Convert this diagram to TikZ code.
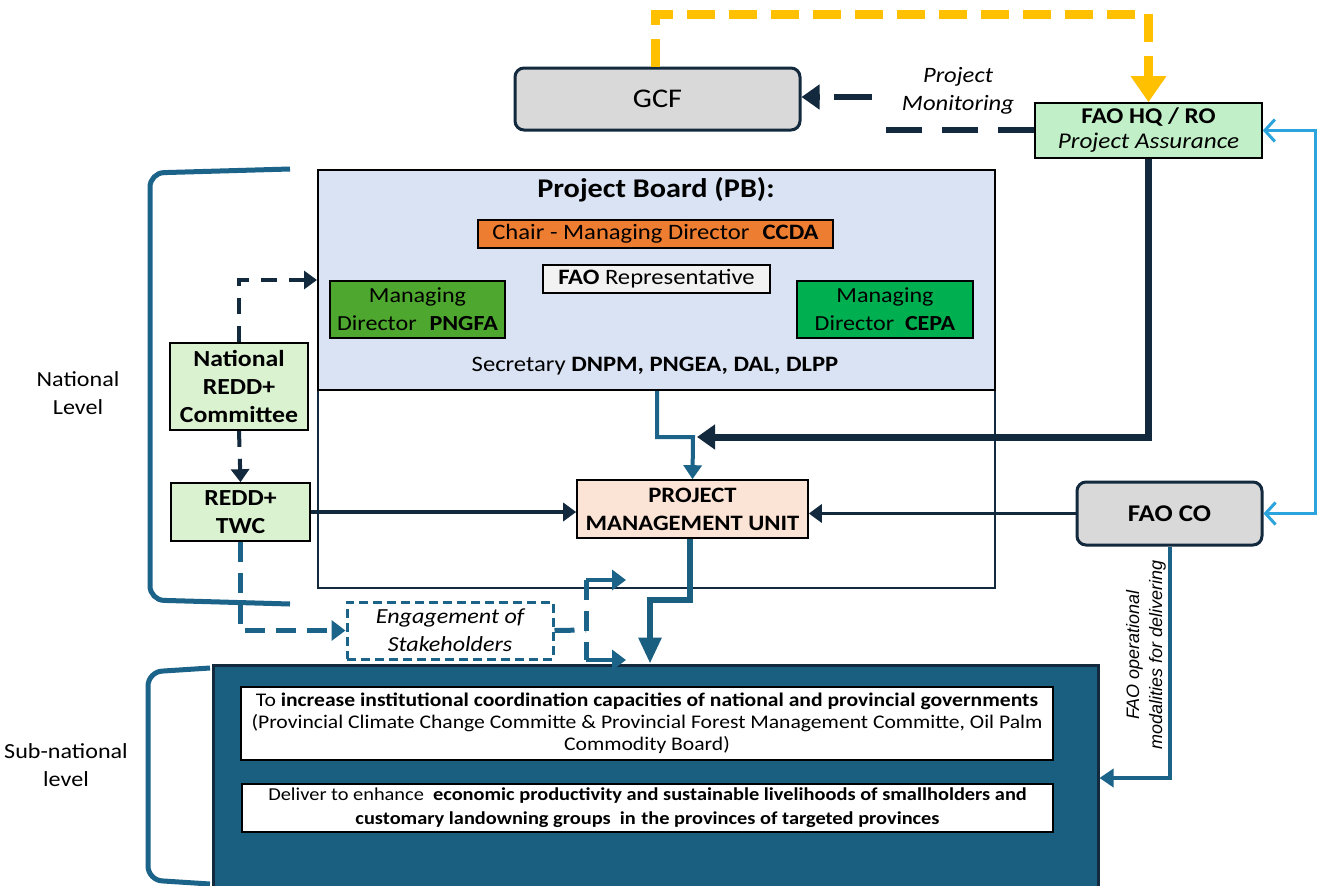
\documentclass[tikz,border=0pt]{standalone}
\usepackage{fontspec}
\setmainfont{Carlito}[FakeStretch=1.12]
\newfontfamily\arialf{Liberation Sans}
\usetikzlibrary{arrows.meta,calc}
\definecolor{navy}{HTML}{13293D}
\definecolor{tealc}{HTML}{1B6388}
\definecolor{subteal}{HTML}{1A5E80}
\definecolor{lblue}{HTML}{2BA3DC}
\definecolor{yel}{HTML}{FFC000}
\definecolor{pbblue}{HTML}{DAE3F3}
\definecolor{gone}{HTML}{4EA72E}
\definecolor{gtwo}{HTML}{00B050}
\definecolor{orng}{HTML}{ED7D31}
\definecolor{hqgreen}{HTML}{C1F0C8}
\definecolor{lgreen}{HTML}{DAF2D0}
\definecolor{peach}{HTML}{FBE3D6}
\definecolor{boxgray}{HTML}{D9D9D9}
\begin{document}
\begin{tikzpicture}[x=1pt,y=-1pt,
  box/.style={draw=black, line width=1.6pt, inner sep=0pt, align=center},
  rbox/.style={draw=navy, line width=3pt, rounded corners=9pt, fill=boxgray, inner sep=0pt, align=center},
  lbl/.style={inner sep=0pt, align=center},
  navyline/.style={draw=navy, line width=3.5pt},
  navyarrow/.style={navyline, -{Triangle[length=13pt,width=18pt]}},
  navydash/.style={draw=navy, line width=4pt, dash pattern=on 16pt off 12pt, -{Triangle[length=13pt,width=18pt]}},
  pmdash/.style={draw=navy, line width=6pt, dash pattern=on 36pt off 20pt},
  tealdash/.style={draw=tealc, line width=5pt, dash pattern=on 20pt off 11pt},
  tealarrow/.style={draw=tealc, line width=4pt, -{Triangle[length=14pt,width=18pt]}},
  bracket/.style={draw=tealc, line width=5pt, rounded corners=14pt},
  lbarb/.style={draw=lblue, line width=3pt, {Straight Barb[length=10pt,width=22pt]}-{Straight Barb[length=10pt,width=22pt]}}
]
\useasboundingbox (0,0) rectangle (1328,886);
\fill[white] (0,0) rectangle (1328,886);

% brackets and level labels
\draw[bracket] (290,169) -- (150,173) -- (150,600) -- (290,604);
\draw[bracket] (210,668) -- (148,672) -- (148,880) -- (210,884);
\node[lbl, font=\fontsize{21.5}{28}\selectfont] (natlbl) at (78,393) {National\\Level};
\node[lbl, font=\fontsize{21.5}{28}\selectfont] (sublbl) at (66,765) {Sub-national\\level};

% top nodes
\node[rbox, minimum width=285pt, minimum height=62pt, font=\fontsize{27}{32}\selectfont] (gcf) at (657.5,99) {GCF};
\node[box, fill=hqgreen, minimum width=227pt, minimum height=55pt, font=\fontsize{22.5}{25}\selectfont] (faohq) at (1148.5,130.5) {\textbf{FAO HQ / RO}\\\textit{Project Assurance}};
\node[lbl, font=\fontsize{22}{28}\selectfont\itshape] (pmon) at (958,91) {Project\\Monitoring};

% project board
\node[draw=navy, line width=1.3pt, minimum width=677pt, minimum height=418pt, inner sep=0pt] (pbout) at (656.5,379) {};
\node[box, fill=pbblue, line width=2pt, minimum width=677pt, minimum height=220pt] (pb) at (656.5,280) {};
\node[lbl, font=\fontsize{27}{30}\selectfont\bfseries] (pbtitle) at (656,190) {Project Board (PB):};
\node[box, fill=orng, minimum width=355pt, minimum height=28pt, font=\fontsize{22}{26}\selectfont] (chair) at (655.5,234) {Chair - Managing Director\hspace{0.6em}\textbf{CCDA}};
\node[box, fill=white!95!black, minimum width=227pt, minimum height=28pt, font=\fontsize{22}{26}\selectfont] (faorep) at (656.5,279) {\textbf{FAO} Representative};
\node[box, fill=gone, minimum width=175pt, minimum height=57pt, font=\fontsize{21.5}{28}\selectfont] (pngfa) at (417.5,309.5) {Managing\\Director\hspace{0.6em}\textbf{PNGFA}};
\node[box, fill=gtwo, minimum width=176pt, minimum height=57pt, font=\fontsize{21.5}{28}\selectfont] (cepa) at (885,309.5) {Managing\\Director\hspace{0.5em}\textbf{CEPA}};
\node[lbl, font=\fontsize{22}{26}\selectfont] (secr) at (655,366) {Secretary \textbf{DNPM, PNGEA, DAL, DLPP}};

% left nodes
\node[box, fill=lgreen, minimum width=138pt, minimum height=87pt, font=\fontsize{23}{28}\selectfont\bfseries] (nrc) at (239,386.5) {National\\REDD+\\Committee};
\node[box, fill=lgreen, minimum width=139pt, minimum height=58pt, font=\fontsize{23}{28}\selectfont\bfseries] (twc) at (240.5,512) {REDD+\\TWC};

% PMU and FAO CO
\node[box, fill=peach, minimum width=231pt, minimum height=58pt, font=\fontsize{22}{28}\selectfont\bfseries] (pmu) at (692.5,509) {PROJECT\\MANAGEMENT UNIT};
\node[rbox, minimum width=185pt, minimum height=63pt, font=\fontsize{24}{26}\selectfont\bfseries] (faoco) at (1169.5,513.5) {FAO CO};

% engagement
\node[draw=tealc, line width=3pt, dash pattern=on 9pt off 5pt, fill=white, minimum width=206pt, minimum height=57pt, inner sep=0pt, align=center, font=\fontsize{21.5}{28}\selectfont\itshape] (eng) at (450,630.5) {Engagement of\\Stakeholders};

% sub-national
\node[draw=navy, line width=3pt, fill=subteal, minimum width=885pt, minimum height=223pt, inner sep=0pt] (sub) at (655.5,776.5) {};
\node[box, fill=white, line width=2pt, minimum width=812pt, minimum height=73pt, font=\fontsize{19.3}{22}\selectfont] (in1) at (647,723.5) {To \textbf{increase institutional coordination capacities of national and provincial governments}\\(Provincial Climate Change Committe \& Provincial Forest Management Committe, Oil Palm\\Commodity Board)};
\node[box, fill=white, line width=2pt, minimum width=811pt, minimum height=48pt, font=\fontsize{18.2}{24}\selectfont] (in2) at (647.5,808) {Deliver to enhance\hspace{0.5em}\textbf{economic productivity and sustainable livelihoods of smallholders and}\\\textbf{customary landowning groups\hspace{0.5em}in\hspace{0.3em}the provinces of targeted provinces}};

\node[lbl, rotate=90, font=\fontsize{18}{23}\selectfont\arialf\itshape] (modal) at (1146,655) {FAO operational\\modalities for delivering};

% coordinates
\coordinate (ytop) at (655,14);
\coordinate (pmlow) at (882,130);
\coordinate (pmup) at (872,97);
\coordinate (junc) at (693,437);
\coordinate (engv) at (586,630);
\coordinate (engtop) at (586,580);
\coordinate (engbot) at (586,660);
\coordinate (engtopend) at (626,580);
\coordinate (engbotend) at (626,660);
\coordinate (pmubend) at (650,600);

% connectors
\draw[draw=yel, line width=9pt, dash pattern=on 28pt off 14pt, -{Triangle[length=26pt,width=34pt]}] (gcf.north -| ytop) -- (ytop) -- (ytop -| faohq.north) -- (faohq.north);
\draw[pmdash] (faohq.west |- pmlow) -- (pmlow);
\draw[pmdash, dash pattern=on 38pt off 14pt, -{Triangle[length=18pt,width=24pt]}] (pmup) -- (gcf.east |- pmup);
\draw[navydash] (nrc.north) |- (pb.west);
\draw[navydash] (nrc.south) -- (twc.north);
\draw[navyarrow] (twc.east) -- (twc.east -| pmu.west);
\draw[navyarrow] (faoco.west) -- (faoco.west -| pmu.east);
\draw[tealarrow] (pb.south -| 657,0) |- (junc) -- (pmu.north);
\draw[draw=navy, line width=7pt, -{Triangle[length=18pt,width=24pt]}] (faohq.south) |- ($(junc)+(4,0)$);
\draw[lbarb] (faoco.east) -- (1315,513.5) |- (faohq.east);
\draw[tealarrow] (faoco.south) |- (sub.east |- 0,778);
\draw[draw=subteal, line width=6pt, -{Triangle[length=26pt,width=22pt]}] (pmu.south -| 690,0) |- (pmubend) -- (pmubend |- sub.north);
\draw[tealdash, -{Triangle[length=14pt,width=20pt]}] (twc.south) |- (eng.west);
\draw[tealdash] (eng.east) -- (engv);
\draw[tealdash] (engtop) -- (engbot);
\draw[draw=tealc, line width=4pt, -{Triangle[length=14pt,width=20pt]}] (engtop) -- (engtopend);
\draw[draw=tealc, line width=4pt, -{Triangle[length=14pt,width=20pt]}] (engbot) -- (engbotend);
\end{tikzpicture}
\end{document}
